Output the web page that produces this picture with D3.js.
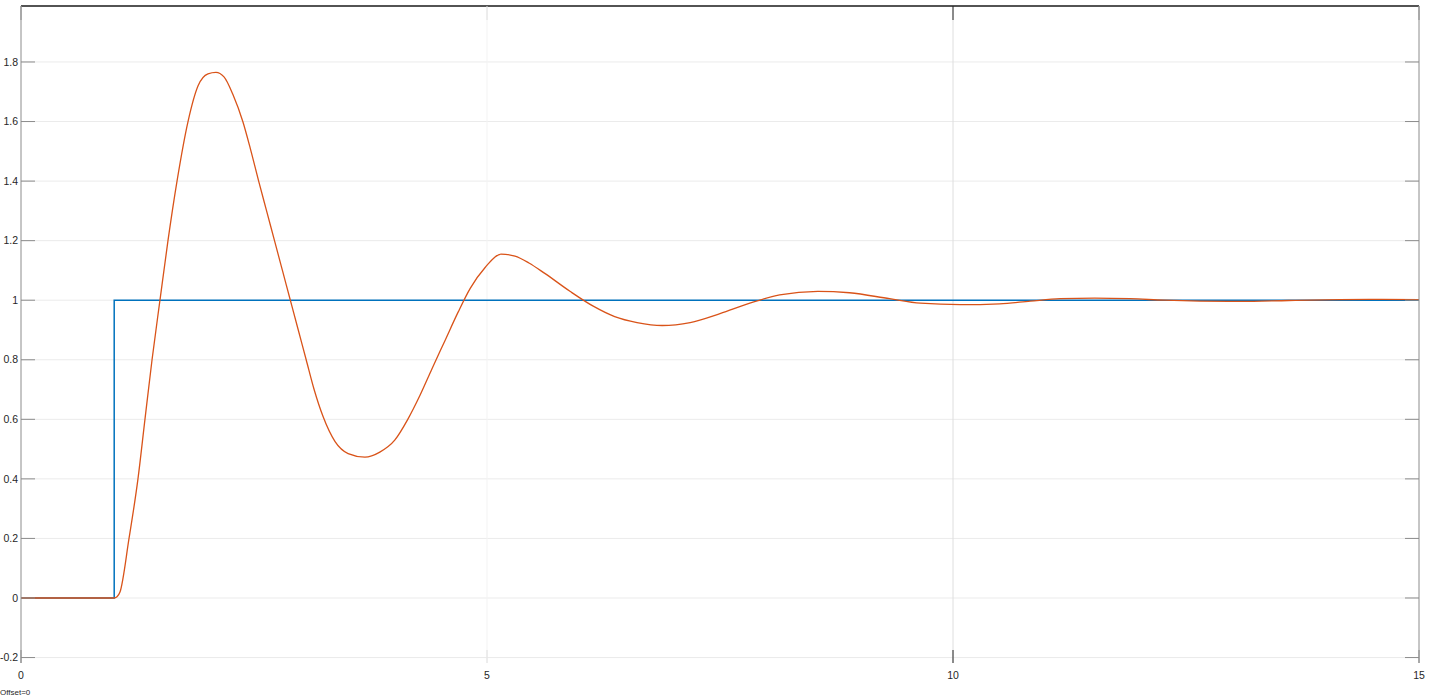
<!DOCTYPE html>
<html><head><meta charset="utf-8">
<script src="https://cdn.jsdelivr.net/npm/d3@7"></script>
<style>
html,body{margin:0;padding:0;background:#fff;}
svg{display:block;font-family:"Liberation Sans",Arial,sans-serif;}
</style></head>
<body><svg id="c" width="1429" height="699"></svg>
<script>
// Data
const xTicks = [0, 5, 10, 15];
const yTicks = [-0.2, 0, 0.2, 0.4, 0.6, 0.8, 1, 1.2, 1.4, 1.6, 1.8];
const stepT = [0, 1, 1, 15];
const stepV = [0, 0, 1, 1];
const respT = [0, 0.5, 0.95, 1.0, 1.03, 1.062, 1.159, 1.255, 1.33, 1.406, 1.491, 1.577, 1.674, 1.792, 1.9, 2.006, 2.092, 2.178, 2.275, 2.38, 2.46, 2.55, 2.635, 2.72, 2.805, 2.89, 2.975, 3.06, 3.145, 3.24, 3.37, 3.51, 3.69, 3.85, 4.01, 4.15, 4.28, 4.41, 4.55, 4.69, 4.82, 4.98, 5.15, 5.3, 5.45, 5.62, 5.89, 6.14, 6.37, 6.61, 6.88, 7.18, 7.5, 7.82, 8.14, 8.55, 8.89, 9.32, 9.65, 10.08, 10.5, 10.83, 11.15, 11.52, 11.9, 12.27, 12.65, 13.08, 13.6, 14.15, 14.58, 15];
const respV = [0, 0, 0, 0, 0.004, 0.02, 0.2, 0.4, 0.6, 0.8, 1.0, 1.2, 1.4, 1.6, 1.72, 1.76, 1.765, 1.75, 1.69, 1.6, 1.51, 1.4, 1.3, 1.2, 1.1, 1.0, 0.9, 0.8, 0.7, 0.61, 0.525, 0.485, 0.473, 0.49, 0.53, 0.6, 0.68, 0.77, 0.865, 0.96, 1.04, 1.11, 1.155, 1.148, 1.125, 1.09, 1.03, 0.98, 0.945, 0.925, 0.915, 0.925, 0.955, 0.99, 1.018, 1.03, 1.025, 1.005, 0.99, 0.985, 0.988, 0.997, 1.005, 1.007, 1.005, 1.0, 0.997, 0.996, 0.999, 1.002, 1.003, 1.002];

const svg = d3.select("#c");
const L = 21, R = 1419, T = 6, B = 663;
const x = d3.scaleLinear().domain([0, 15]).range([L, R]);
const y = d3.scaleLinear().domain([-0.2183, 1.988]).range([B, T]);

// grid
svg.append("g").selectAll("line").data(yTicks).enter().append("line")
  .attr("x1", L).attr("x2", R).attr("y1", d => y(d)).attr("y2", d => y(d))
  .attr("stroke", "#ebebeb").attr("stroke-width", 1);
svg.append("g").selectAll("line").data(xTicks.slice(1, -1)).enter().append("line")
  .attr("x1", d => x(d)).attr("x2", d => x(d)).attr("y1", T).attr("y2", B)
  .attr("stroke", d => d === 10 ? "#dedede" : "#f3f3f3").attr("stroke-width", 1);

// lines
const line = d3.line().x(d => x(d[0])).y(d => y(d[1]));
svg.append("path").datum(stepT.map((t, i) => [t, stepV[i]]))
  .attr("d", line).attr("fill", "none").attr("stroke", "#0072BD").attr("stroke-width", 1.5);
svg.append("path").datum(respT.map((t, i) => [t, respV[i]]))
  .attr("d", line.curve(d3.curveMonotoneX)).attr("fill", "none").attr("stroke", "#D95319").attr("stroke-width", 1.3);

// frame
svg.append("line").attr("x1", L).attr("x2", R).attr("y1", T).attr("y2", T).attr("stroke", "#1a1a1a").attr("stroke-width", 1.5);
svg.append("line").attr("x1", L).attr("x2", L).attr("y1", T).attr("y2", B).attr("stroke", "#8c8c8c").attr("stroke-width", 1);
svg.append("line").attr("x1", R).attr("x2", R).attr("y1", T).attr("y2", B).attr("stroke", "#8c8c8c").attr("stroke-width", 1);

// y ticks
const yg = svg.append("g");
yTicks.forEach(v => {
  yg.append("line").attr("x1", L).attr("x2", L + 14).attr("y1", y(v)).attr("y2", y(v)).attr("stroke", "#8c8c8c");
  yg.append("line").attr("x1", R - 14).attr("x2", R).attr("y1", y(v)).attr("y2", y(v)).attr("stroke", "#8c8c8c");
  yg.append("text").attr("x", 18).attr("y", y(v)).attr("dy", "0.35em").attr("text-anchor", "end")
    .attr("font-size", 10.5).attr("fill", "#262626").text(+v.toFixed(1));
});
// x ticks
const xg = svg.append("g");
xTicks.forEach(v => {
  const col = v === 10 ? "#262626" : (v === 5 ? "#e0e0e0" : "#8c8c8c");
  xg.append("line").attr("x1", x(v)).attr("x2", x(v)).attr("y1", B - 13).attr("y2", B).attr("stroke", col);
  xg.append("line").attr("x1", x(v)).attr("x2", x(v)).attr("y1", T).attr("y2", T + 14).attr("stroke", col);
  xg.append("text").attr("x", x(v)).attr("y", 679).attr("text-anchor", "middle")
    .attr("font-size", 10.5).attr("fill", "#262626").text(v);
});
svg.append("text").attr("x", 0).attr("y", 695).attr("font-size", 8).attr("fill", "#262626").text("Offset=0");
</script></body></html>
